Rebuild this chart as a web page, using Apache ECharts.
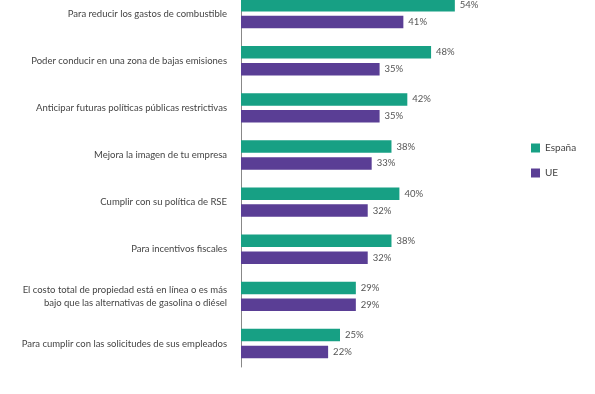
<!DOCTYPE html>
<html><head><meta charset="utf-8">
<script src="https://cdn.jsdelivr.net/npm/echarts@6/dist/echarts.min.js"></script>
<style>html,body{margin:0;padding:0;background:#fff}#c{width:595px;height:394px}</style>
</head><body><div id="c"></div>
<script>
const categories = [
  "Para reducir los gastos de combustible",
  "Poder conducir en una zona de bajas emisiones",
  "Anticipar futuras políticas públicas restrictivas",
  "Mejora la imagen de tu empresa",
  "Cumplir con su política de RSE",
  "Para incentivos fiscales",
  "El costo total de propiedad está en línea o es más\nbajo que las alternativas de gasolina o diésel",
  "Para cumplir con las solicitudes de sus empleados"
];
const espana = [54, 48, 42, 38, 40, 38, 29, 25];
const ue = [41, 35, 35, 33, 32, 32, 29, 22];
const seriesNames = ["España", "UE"];

const font = "Lato";
const chart = echarts.init(document.getElementById('c'), null, {renderer: 'canvas'});
chart.setOption({
  animation: false,
  textStyle: {fontFamily: font},
  grid: {left: 241, top: -10, width: 237.6, height: 377, containLabel: false, outerBoundsMode: 'none'},
  legend: {
    orient: 'vertical', left: 526, top: 138, itemWidth: 9, itemHeight: 9, itemGap: 15,
    icon: 'rect',
    textStyle: {fontFamily: font, fontSize: 10, color: '#444'},
    data: seriesNames
  },
  xAxis: {type: 'value', min: 0, max: 60, show: false},
  yAxis: {
    type: 'category', inverse: true, data: categories,
    axisLine: {show: true, lineStyle: {color: '#888', width: 1}},
    axisTick: {show: false},
    axisLabel: {margin: 14, fontSize: 9.5, color: '#444', fontFamily: font, lineHeight: 13, align: 'right'}
  },
  series: [
    {name: seriesNames[0], type: 'bar', data: espana, barWidth: 12.5, barGap: '35%',
     itemStyle: {color: '#17a084'},
     label: {show: true, position: 'right', distance: 5, formatter: '{c}%', fontSize: 9.5, color: '#555', fontFamily: font}},
    {name: seriesNames[1], type: 'bar', data: ue, barWidth: 12.5, barGap: '35%',
     itemStyle: {color: '#5a3e95'},
     label: {show: true, position: 'right', distance: 5, formatter: '{c}%', fontSize: 9.5, color: '#555', fontFamily: font}}
  ]
});
</script></body></html>
